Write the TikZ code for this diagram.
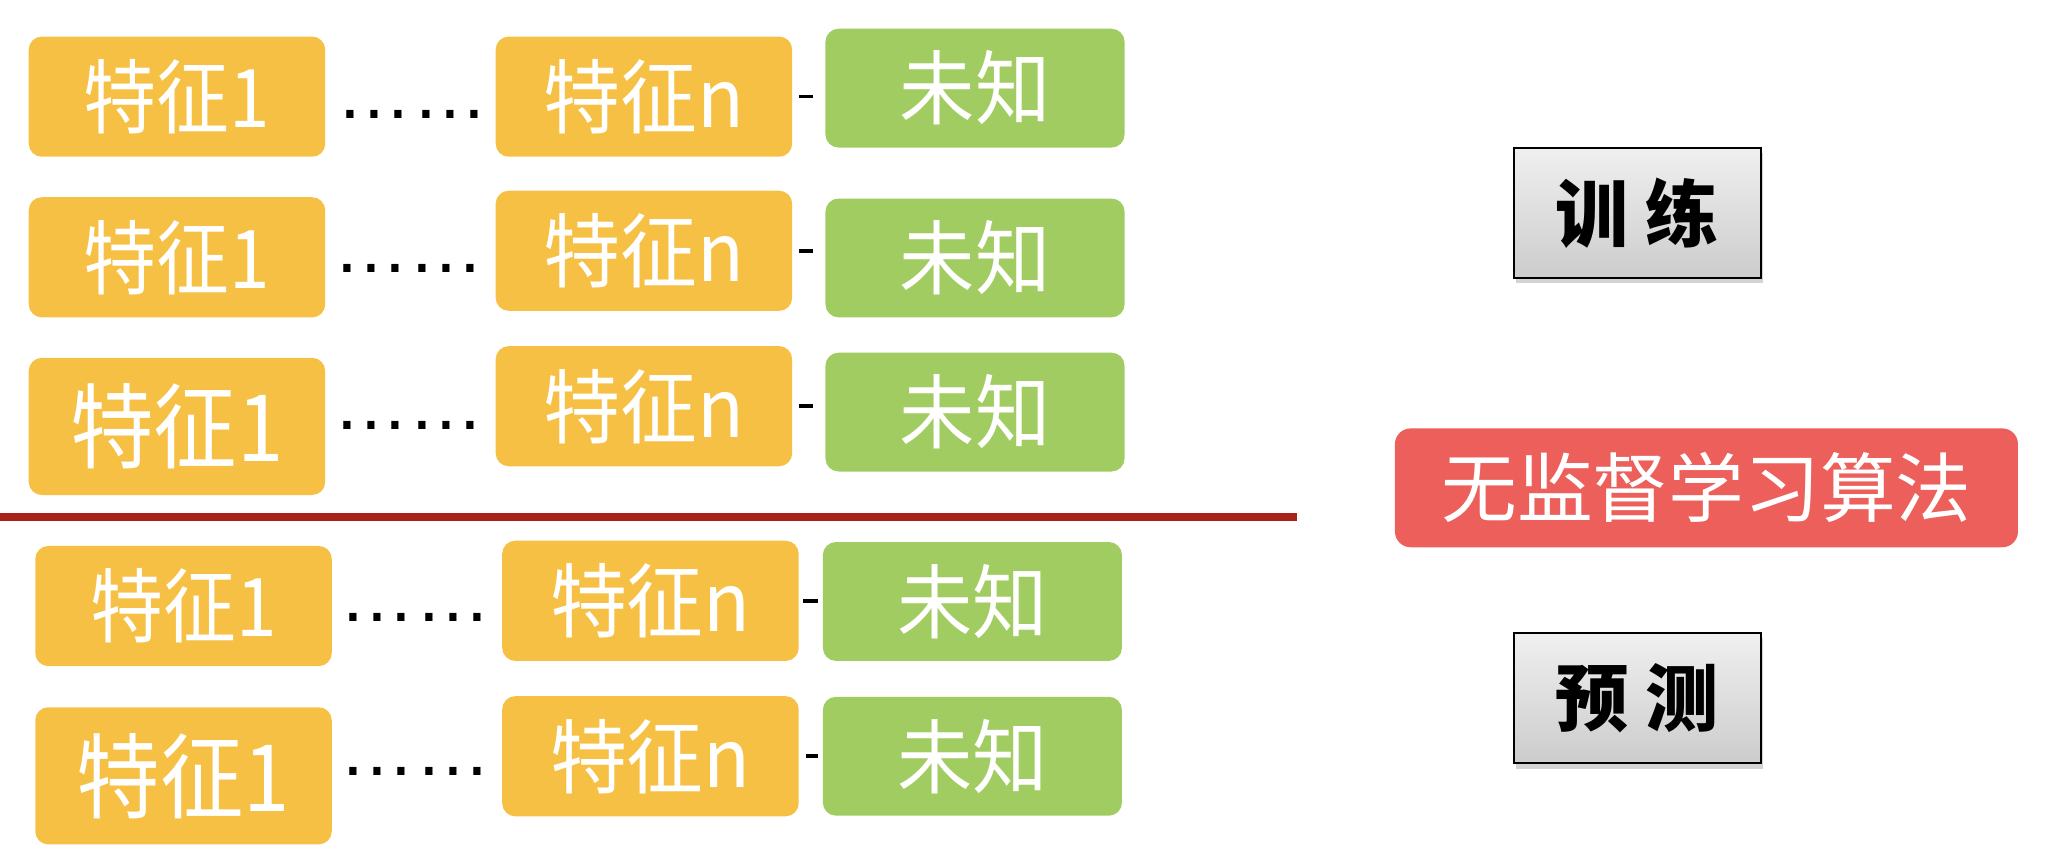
\documentclass[tikz,border=0pt]{standalone}
\usepackage{fontspec}
\setmainfont{Noto Sans CJK SC}
\newfontfamily\featfont[FakeStretch=0.9]{Noto Sans CJK SC}
\newfontfamily\nfeatfont[FakeStretch=0.95]{Noto Sans CJK SC}
\newfontfamily\unkfont[FakeStretch=0.93]{Noto Sans CJK SC}
\newfontfamily\dotfont{Liberation Sans}
\usetikzlibrary{shadows}
\definecolor{featorange}{HTML}{F6C044}
\definecolor{unkgreen}{HTML}{A1CC62}
\definecolor{algred}{HTML}{EC5F5B}
\definecolor{splitred}{HTML}{A92219}
\tikzset{
	feature/.style={fill=featorange,rounded corners=5pt,text=white,inner sep=0,
		minimum width=113.5pt,minimum height=46pt,font=\featfont\fontsize{31}{31}\selectfont},
	bigfeature/.style={feature,minimum height=52.5pt,font=\featfont\fontsize{35.5}{35.5}\selectfont},
	nfeature/.style={feature,font=\nfeatfont\fontsize{31}{31}\selectfont},
	unknown/.style={fill=unkgreen,rounded corners=5pt,text=white,inner sep=0,
		minimum width=114.5pt,minimum height=45.5pt,font=\unkfont\fontsize{31}{31}\selectfont},
	dotrow/.style={anchor=base,inner sep=0,font=\dotfont\fontsize{29}{29}\selectfont},
	link/.style={line width=1.4pt,shorten <=2.5pt,shorten >=4.5pt},
	phase/.style={draw=black,line width=0.8pt,top color=gray!12,bottom color=gray!40,
		minimum width=94.5pt,minimum height=50pt,inner sep=0,
		drop shadow={shadow xshift=1pt,shadow yshift=-2pt,opacity=0.35},
		font=\bfseries\fontsize{28}{28}\selectfont},
	algo/.style={fill=algred,rounded corners=6pt,text=white,inner sep=0,
		minimum width=238.5pt,minimum height=45.5pt,font=\fontsize{29}{29}\selectfont}
}
\begin{document}
\begin{tikzpicture}[x=0.5pt,y=-0.5pt]
\useasboundingbox (0,0) rectangle (1568,661.5);
\node[feature] (fa1) at (135.5,74) {特征1};
\node[dotrow] (da1) at (315.5,91) {……};
\node[nfeature] (fb1) at (493,74) {特征n};
\node[unknown] (ua1) at (746.5,67.5) {未知};
\draw[link] (fb1.east) -- (fb1.east -| ua1.west);
\node[feature] (fa2) at (135.5,197) {特征1};
\node[dotrow] (da2) at (313,209) {……};
\node[nfeature] (fb2) at (493,192) {特征n};
\node[unknown] (ua2) at (746.5,197.5) {未知};
\draw[link] (fb2.east) -- (fb2.east -| ua2.west);
\node[bigfeature] (fa3) at (135.5,326.5) {特征1};
\node[dotrow] (da3) at (313,329) {……};
\node[nfeature] (fb3) at (493,311) {特征n};
\node[unknown] (ua3) at (746.5,315.5) {未知};
\draw[link] (fb3.east) -- (fb3.east -| ua3.west);
\draw[splitred,line width=3pt] (0,396) coordinate (sl) -- (993,396) coordinate (sr);
\node[feature] (fa4) at (140.5,464) {特征1};
\node[dotrow] (da4) at (318,476) {……};
\node[nfeature] (fb4) at (498,460) {特征n};
\node[unknown] (ua4) at (744.5,460.5) {未知};
\draw[link,shorten <=1.5pt,shorten >=1.5pt] (fb4.east) -- (fb4.east -| ua4.west);
\node[bigfeature] (fa5) at (140.5,594) {特征1};
\node[dotrow] (da5) at (318,594) {……};
\node[nfeature] (fb5) at (498,579) {特征n};
\node[unknown] (ua5) at (744.5,579) {未知};
\draw[link,shorten <=2.5pt,shorten >=1.5pt] (fb5.east) -- (fb5.east -| ua5.west);
\node[phase] (train) at (1253.5,163) {训 练};
\node[algo] (alg) at (1306.5,373.5) {无监督学习算法};
\node[phase] (pred) at (1253.5,534.5) {预 测};
\end{tikzpicture}
\end{document}
